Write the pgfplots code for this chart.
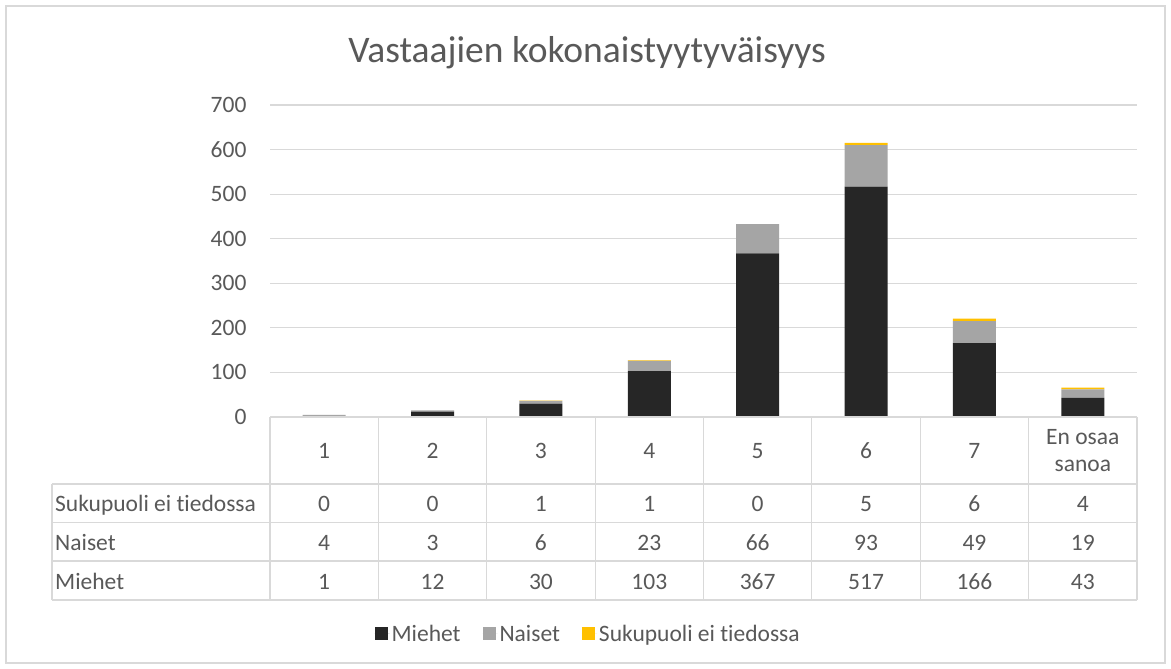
\documentclass[border=0pt]{standalone}
\usepackage{pgfplots}
\pgfplotsset{compat=1.18}
\usepackage{pgfplotstable}
\usepackage{fontspec}
\setmainfont[Ligatures={NoCommon,NoRequired,NoContextual}]{Carlito}
\definecolor{miehet}{HTML}{262626}
\definecolor{naiset}{HTML}{A5A5A5}
\definecolor{tuntematon}{HTML}{FFC000}
\definecolor{txt}{HTML}{595959}
\definecolor{grd}{HTML}{D9D9D9}

\pgfplotstableread{
x M N S
0 1 4 0
1 12 3 0
2 30 6 1
3 103 23 1
4 367 66 0
5 517 93 5
6 166 49 6
7 43 19 4
}\datatable

\newcommand{\bodyfont}{\fontsize{23.5}{27}\selectfont}

\begin{document}
\begin{tikzpicture}[x=1pt,y=1pt]
\path[use as bounding box, fill=white] (0,0) rectangle (1171,-669);
\draw[grd, line width=1.2pt] (6,-6) rectangle (1165,-663);
\node[font=\fontsize{37.5}{44}\selectfont, text=txt] at (587,-53) {Vastaajien kokonaistyytyväisyys};
\begin{axis}[
  at={(270pt,-417pt)}, anchor=south west,
  width=867pt, height=312pt, scale only axis,
  xmin=-0.5, xmax=7.5, ymin=0, ymax=700,
  ybar stacked, bar width=43pt,
  axis line style={draw=none},
  xtick=\empty,
  ytick={0,100,...,700},
  ymajorgrids, grid style={grd, line width=1.2pt},
  major tick length=0pt,
  tick label style={font=\bodyfont, text=txt},
  yticklabel style={xshift=-20pt},
  /pgf/number format/assume math mode=true,
  clip=false,
  legend style={at={(rel axis cs:0.367,-0.695)}, anchor=center, draw=none, fill=none,
    legend columns=3, font=\bodyfont, text=txt,
    /tikz/every even column/.append style={column sep=20pt}},
  legend image code/.code={\path[#1] (0pt,-6.5pt) rectangle (13pt,6.5pt); \path (0pt,0pt) -- (15pt,0pt);},
]
\addplot[fill=miehet, draw=none] table[x=x,y=M]{\datatable};
\addplot[fill=naiset, draw=none] table[x=x,y=N]{\datatable};
\addplot[fill=tuntematon, draw=none] table[x=x,y=S]{\datatable};
\legend{Miehet, Naiset, Sukupuoli ei tiedossa}
\end{axis}
% data table
\begin{scope}[grd, line width=1.2pt]
\draw (270,-417) -- (1137,-417);
\draw (52,-484) -- (1137,-484);
\draw (52,-522.5) -- (1137,-522.5);
\draw (52,-561) -- (1137,-561);
\draw (52,-600) -- (1137,-600);
\draw (52,-484) -- (52,-600);
\foreach \i in {0,...,8} {\draw ({270+\i*108.375},-417) -- ({270+\i*108.375},-600);}
\end{scope}
\begin{scope}[every node/.style={font=\bodyfont, text=txt, anchor=base, inner sep=0pt}]
\foreach \i in {0,...,6} {\pgfmathtruncatemacro{\lab}{\i+1}\node at ({270+(\i+0.5)*108.375},-458) {\lab};}
\node at ({270+7.5*108.375},-444) {En osaa};
\node at ({270+7.5*108.375},-471) {sanoa};
\node[anchor=base west] at (55,-511) {Sukupuoli ei tiedossa};
\node[anchor=base west] at (55,-550) {Naiset};
\node[anchor=base west] at (55,-589) {Miehet};
\foreach \i in {0,...,7} {
  \pgfplotstablegetelem{\i}{S}\of\datatable
  \node at ({270+(\i+0.5)*108.375},-511) {\pgfplotsretval};
  \pgfplotstablegetelem{\i}{N}\of\datatable
  \node at ({270+(\i+0.5)*108.375},-550) {\pgfplotsretval};
  \pgfplotstablegetelem{\i}{M}\of\datatable
  \node at ({270+(\i+0.5)*108.375},-589) {\pgfplotsretval};
}
\end{scope}
\end{tikzpicture}
\end{document}
